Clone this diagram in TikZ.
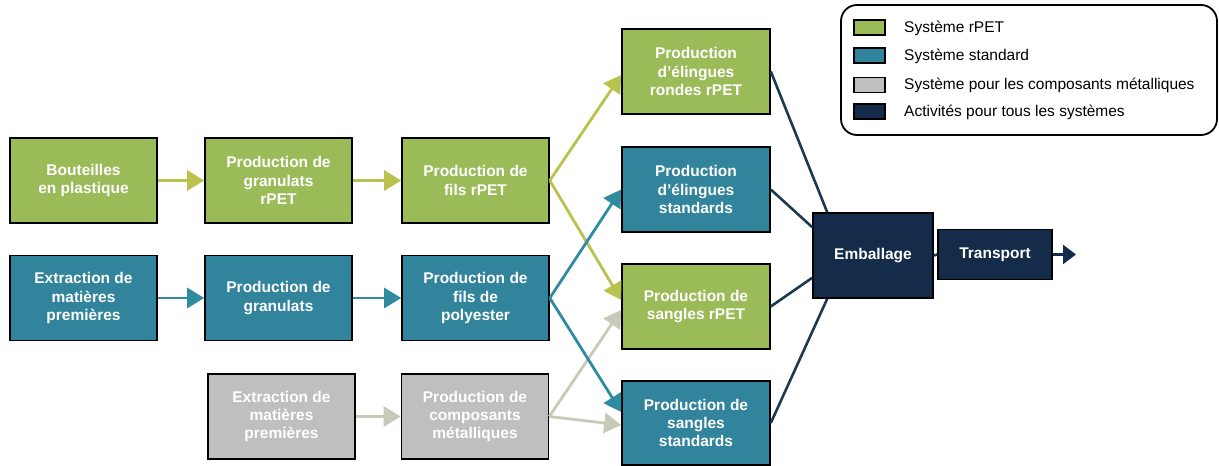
\documentclass[tikz,border=0pt]{standalone}
\usepackage{fontspec}
\setmainfont{Liberation Sans}
\usetikzlibrary{arrows.meta,calc}
\definecolor{cgreen}{HTML}{9BBB59}
\definecolor{cblue}{HTML}{31849B}
\definecolor{cgrey}{HTML}{BFBFBF}
\definecolor{cnavy}{HTML}{142B4A}
\definecolor{agreen}{HTML}{B8C24C}
\definecolor{ablue}{HTML}{2E8BA0}
\definecolor{agrey}{HTML}{C9C9BA}
\definecolor{aline}{HTML}{1C3A4F}
\begin{document}
\begin{tikzpicture}[x=1pt,y=-1pt,
  box/.style={draw=black,line width=1.6pt,minimum width=147pt,minimum height=85pt,
    align=center,text=white,inner sep=2pt,
    font=\fontsize{15.5}{18.3}\selectfont\bfseries},
  gbox/.style={box,fill=cgreen},
  bbox/.style={box,fill=cblue},
  ybox/.style={box,fill=cgrey},
  nbox/.style={box,fill=cnavy},
  conn/.style={line width=2.8pt,-{Triangle[length=17pt,width=20pt]}},
  garr/.style={conn,draw=agreen,fill=agreen},
  barr/.style={conn,draw=ablue,fill=ablue},
  yarr/.style={conn,draw=agrey,fill=agrey},
  dline/.style={line width=2.6pt,draw=aline},
  swatch/.style={draw=black,line width=1.2pt,minimum width=31pt,minimum height=15pt,inner sep=0pt},
  legtext/.style={anchor=west,font=\fontsize{15.5}{18}\selectfont,inner sep=0pt}
]
\useasboundingbox (0,0) rectangle (1219,466);
% column 1
\node[gbox] (B1) at (83.5,180.5) {Bouteilles\\en plastique};
\node[bbox] (B2) at (83.5,298) {Extraction de\\matières\\premières};
% column 2
\node[gbox] (G1) at (278.5,180.5) {Production de\\granulats\\rPET};
\node[bbox] (G2) at (278.5,298) {Production de\\granulats};
\node[ybox] (X3) at (281.5,416.5) {Extraction de\\matières\\premières};
% column 3
\node[gbox] (F1) at (475.5,180.5) {Production de\\fils rPET};
\node[bbox] (F2) at (475.5,298) {Production de\\fils de\\polyester};
\node[ybox] (C3) at (475,416.5) {Production de\\composants\\métalliques};
% column 4
\node[gbox,minimum width=148pt] (E1) at (696,71.5) {Production\\d’élingues\\rondes rPET};
\node[bbox,minimum width=148pt] (E2) at (696,189.5) {Production\\d’élingues\\standards};
\node[gbox,minimum width=148pt] (S1) at (696,306.5) {Production de\\sangles rPET};
\node[bbox,minimum width=148pt,minimum height=84pt] (S2) at (696,423) {Production de\\sangles\\standards};
% final
\node[nbox,minimum width=120pt] (EM) at (873,255.5) {Emballage};
\node[nbox,minimum width=114pt,minimum height=50pt] (TR) at (995,254.5) {\raisebox{-2pt}{Transport}};
\coordinate (END) at (1076,254.5);

% arrows
\draw[garr] (B1.east) -- (G1.west);
\draw[garr] (G1.east) -- (F1.west);
\draw[barr] (B2.east) -- (G2.west);
\draw[barr] (G2.east) -- (F2.west);
\draw[yarr] (X3.east) -- (C3.west);

\draw[yarr] (C3.east) -- ($(S1.west)+(0,3.5)$);
\draw[yarr] (C3.east) -- ($(S2.west)+(0,2)$);
\draw[garr] (F1.east) -- ($(E1.west)+(0,3.5)$);
\draw[garr] (F1.east) -- ($(S1.west)+(0,-6.5)$);
\draw[barr] (F2.east) -- (E2.west);
\draw[barr] (F2.east) -- ($(S2.west)+(0,-11)$);

% dark lines
\draw[dline] (E1.east) -- ($(EM.north west)+(15,0)$);
\draw[dline] (E2.east) -- ($(EM.north west)+(0,15)$);
\draw[dline] (S1.east) -- ($(EM.south west)+(0,-21)$);
\draw[dline] (S2.east) -- ($(EM.south west)+(15,0)$);
\draw[dline] (EM.east) -- (TR.west);
\draw[dline,draw=cnavy,fill=cnavy,-{Triangle[length=13pt,width=19pt]}] (TR.east) -- (END);

% legend
\node[draw=black,line width=1.8pt,rounded corners=16pt,minimum width=376pt,minimum height=130pt,inner sep=0pt] (LG) at (1029,70) {};
\node[swatch,fill=cgreen] (L1) at (869.5,27.5) {};
\node[swatch,fill=cblue] (L2) at (869.5,55.5) {};
\node[swatch,fill=cgrey] (L3) at (869.5,85) {};
\node[swatch,fill=cnavy] (L4) at (869.5,111.5) {};
\node[legtext] (T1) at (904,28.5) {Système rPET};
\node[legtext] (T2) at (904,56.5) {Système standard};
\node[legtext] (T3) at (904,85) {Système pour les composants métalliques};
\node[legtext] (T4) at (904,112.5) {Activités pour tous les systèmes};
\end{tikzpicture}
\end{document}
